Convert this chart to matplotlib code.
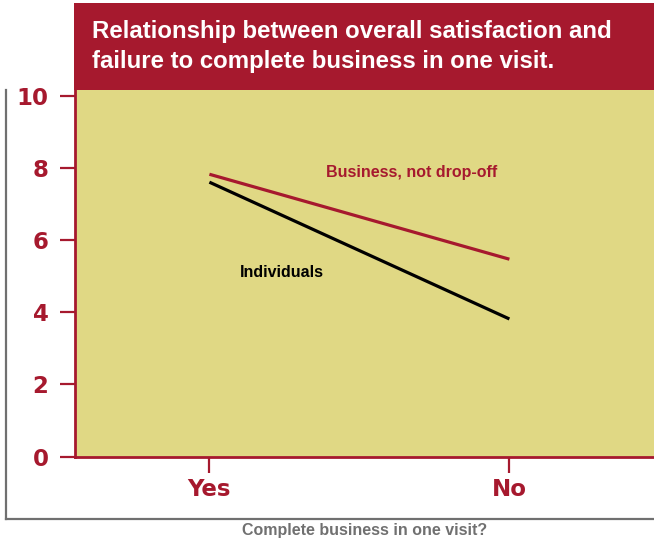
import matplotlib
matplotlib.use("Agg")
import matplotlib.pyplot as plt
from matplotlib.patches import Rectangle
from matplotlib.lines import Line2D

plt.rcParams['font.family'] = ['Liberation Sans', 'DejaVu Sans']

# Data
categories = ["Yes", "No"]
business_not_dropoff = [7.84, 5.48]
individuals = [7.62, 3.82]
y_ticks = [0, 2, 4, 6, 8, 10]

RED = "#A6192E"
YELLOW = "#E0D884"
GRAY = "#707070"

W, H = 654, 541
fig = plt.figure(figsize=(W / 100, H / 100), dpi=100)

def fx(px):
    return px / W

def fy(py):
    return 1 - py / H

# Plot area
left, right, top, bottom = 75, 654, 90, 456.5
ax = fig.add_axes([fx(left), fy(bottom), fx(right - left), (bottom - top) / H])
ax.set_facecolor(YELLOW)

x = list(range(len(categories)))
ax.plot(x, business_not_dropoff, color=RED, lw=2.3, solid_capstyle='butt')
ax.plot(x, individuals, color="black", lw=2.3, solid_capstyle='butt')

ax.set_xlim(-0.448, 1.482)
ax.set_ylim(0, 10.18)

ax.set_yticks(y_ticks)
ax.set_yticklabels([str(v) for v in y_ticks])
ax.set_xticks(x)
ax.set_xticklabels(categories)

ax.tick_params(axis='y', colors=RED, length=11, width=1.6, pad=8)
ax.tick_params(axis='x', colors=RED, length=11.5, width=1.6, pad=4)
for lbl in ax.get_yticklabels() + ax.get_xticklabels():
    lbl.set_fontfamily('DejaVu Sans')
    lbl.set_fontweight('bold')
    lbl.set_fontsize(16.5)

for side in ['top', 'right']:
    ax.spines[side].set_visible(False)
for side in ['left', 'bottom']:
    ax.spines[side].set_color(RED)
    ax.spines[side].set_linewidth(2)

# Series labels
ax.text(0.39, 7.9, "Business, not drop-off", color=RED, fontsize=11.5,
        fontweight='bold', ha='left', va='center')
ax.text(0.1, 5.1, "Individuals", color="black", fontsize=11.5,
        fontweight='bold', ha='left', va='center')

# Title banner
fig.patches.append(Rectangle((fx(74), fy(90)), fx(654 - 74), (90 - 3) / H,
                             transform=fig.transFigure, facecolor=RED,
                             edgecolor='none', zorder=3))
fig.text(fx(92), fy(38), "Relationship between overall satisfaction and",
         color="white", fontsize=17.3, fontweight='bold', ha='left',
         va='baseline', zorder=4)
fig.text(fx(92), fy(68), "failure to complete business in one visit.",
         color="white", fontsize=17.3, fontweight='bold', ha='left',
         va='baseline', zorder=4)

# Outer frame
fig.add_artist(Line2D([fx(6), fx(6)], [fy(90), fy(519)], color=GRAY, lw=1.6,
                      transform=fig.transFigure, solid_capstyle='projecting'))
fig.add_artist(Line2D([fx(6), fx(654)], [fy(519), fy(519)], color=GRAY, lw=1.6,
                      transform=fig.transFigure, solid_capstyle='projecting'))

# Axis title
fig.text(fx(365), fy(531), "Complete business in one visit?", color=GRAY,
         fontsize=11.5, fontweight='bold', ha='center', va='center')

fig.savefig("out.png", dpi=100)
